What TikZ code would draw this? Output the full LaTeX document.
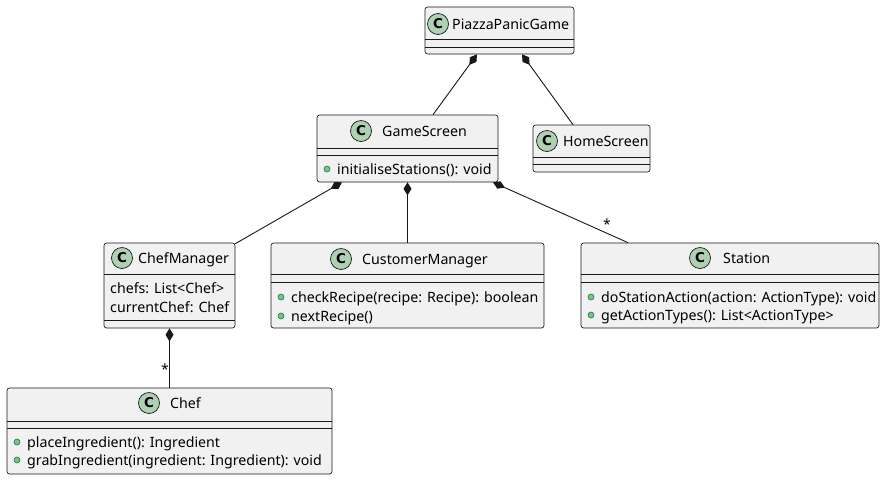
\documentclass[tikz,border=0pt]{standalone}
\usepackage{fontspec}
\setmainfont{Noto Sans}
\newfontfamily\iconfont{DejaVu Sans}
\usetikzlibrary{arrows.meta}
\definecolor{boxfill}{HTML}{F1F1F1}
\definecolor{boxline}{HTML}{181818}
\definecolor{cfill}{HTML}{ADD1B2}
\definecolor{dotfill}{HTML}{84BE84}
\definecolor{dotline}{HTML}{038048}
\begin{document}
\begin{tikzpicture}[x=1pt,y=-1pt,
  cls/.style={rectangle, draw=boxline, fill=boxfill, rounded corners=2.5pt, line width=0.65pt, inner sep=0pt},
  sepline/.style={draw=boxline, line width=0.65pt},
  cicon/.style={circle, draw=boxline, fill=cfill, line width=0.7pt, minimum size=21pt, inner sep=0pt, font=\iconfont\bfseries\fontsize{13.5}{14}\selectfont},
  txt/.style={anchor=base west, inner sep=0pt, font=\fontsize{14.2}{16}\selectfont, text=black},
  vis/.style={circle, draw=dotline, fill=dotfill, line width=0.6pt, minimum size=6pt, inner sep=0pt},
  comp/.style={draw=boxline, line width=0.9pt, {Diamond[length=13pt,width=8pt]}-},
  mult/.style={anchor=center, inner sep=0pt, font=\fontsize{14}{14}\selectfont}
]
\fill[white] (0,0) rectangle (885,480);
\useasboundingbox (0,0) rectangle (885,480);

% PiazzaPanicGame
\node[cls, minimum width=149pt, minimum height=47pt] (pg) at (499.5,30.5) {};
\draw[sepline] (425,39) -- (574,39);
\draw[sepline] (425,47) -- (574,47);
\node[cicon] (pgc) at (438,24) {C};
\node[txt] (pgt) at (452,29) {PiazzaPanicGame};

% GameScreen
\node[cls, minimum width=181pt, minimum height=67pt] (gs) at (407.5,148.5) {};
\draw[sepline] (317,148) -- (498,148);
\draw[sepline] (317,155) -- (498,155);
\node[cicon] (gsc) at (361,131) {C};
\node[txt] (gst) at (382,136) {GameScreen};
\node[vis] (gsd1) at (327,169) {};
\node[txt] (gsm1) at (337,174) {initialiseStations(): void};

% HomeScreen
\node[cls, minimum width=117pt, minimum height=47pt] (hs) at (591.5,148.5) {};
\draw[sepline] (533,157) -- (650,157);
\draw[sepline] (533,164) -- (650,164);
\node[cicon] (hsc) at (547,141) {C};
\node[txt] (hst) at (563,146) {HomeScreen};

% ChefManager
\node[cls, minimum width=131pt, minimum height=85pt] (cm) at (169.5,285.5) {};
\draw[sepline] (104,274) -- (235,274);
\draw[sepline] (104,320) -- (235,320);
\node[cicon] (cmc) at (122,258) {C};
\node[txt] (cmt) at (138,263) {ChefManager};
\node[txt] (cma1) at (110,293) {chefs: List<Chef>};
\node[txt] (cma2) at (110,312) {currentChef: Chef};

% CustomerManager
\node[cls, minimum width=273pt, minimum height=85pt] (cu) at (407.5,285.5) {};
\draw[sepline] (271,274) -- (544,274);
\draw[sepline] (271,282.5) -- (544,282.5);
\node[cicon] (cuc) at (341,259) {C};
\node[txt] (cut) at (362,264) {CustomerManager};
\node[vis] (cud1) at (281,297) {};
\node[txt] (cum1) at (291,302) {checkRecipe(recipe: Recipe): boolean};
\node[vis] (cud2) at (281,316) {};
\node[txt] (cum2) at (291,321) {nextRecipe()};

% Station
\node[cls, minimum width=298pt, minimum height=85pt] (st) at (730,285.5) {};
\draw[sepline] (581,274) -- (879,274);
\draw[sepline] (581,282.5) -- (879,282.5);
\node[cicon] (stc) at (700,258) {C};
\node[txt] (stt) at (723,263) {Station};
\node[vis] (std1) at (591,297) {};
\node[txt] (stm1) at (601,302) {doStationAction(action: ActionType): void};
\node[vis] (std2) at (591,315) {};
\node[txt] (stm2) at (601,320) {getActionTypes(): List<ActionType>};

% Chef
\node[cls, minimum width=325pt, minimum height=86pt] (ch) at (169.5,431) {};
\draw[sepline] (7,421) -- (332,421);
\draw[sepline] (7,428) -- (332,428);
\node[cicon] (chc) at (149,403) {C};
\node[txt] (cht) at (170,408) {Chef};
\node[vis] (chd1) at (17,442) {};
\node[txt] (chm1) at (27,447) {placeIngredient(): Ingredient};
\node[vis] (chd2) at (17,460) {};
\node[txt] (chm2) at (27,465) {grabIngredient(ingredient: Ingredient): void};

% connectors
\draw[comp] ([xshift=-22.5pt]pg.south) -- ([xshift=25.5pt]gs.north);
\draw[comp] ([xshift=22.5pt]pg.south) -- ([xshift=-18.5pt]hs.north);
\draw[comp] ([xshift=-65.5pt]gs.south) -- ([yshift=-1pt]cm.north east);
\draw[comp] (gs.south) -- (cu.north);
\draw[comp] ([xshift=85.5pt]gs.south) -- ([xshift=-102pt]st.north);
\draw[comp] (cm.south) -- (ch.north);
\node[mult] (m1) at (607,224) {*};
\node[mult] (m2) at (165,369) {*};
\end{tikzpicture}
\end{document}
